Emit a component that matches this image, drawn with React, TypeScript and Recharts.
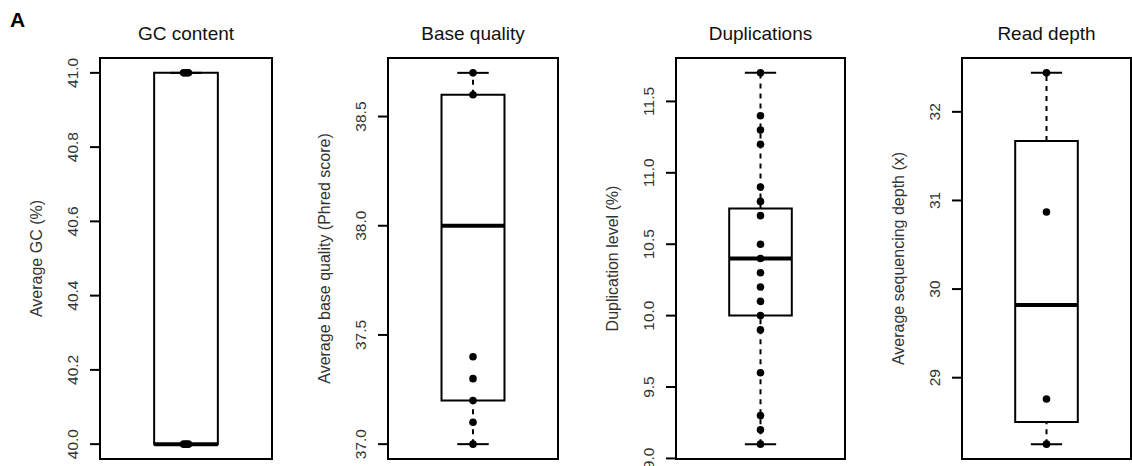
import React from "react"
import {
  ComposedChart,
  Scatter,
  XAxis,
  YAxis,
  ReferenceArea,
  ReferenceLine,
} from "recharts"

// five-number summaries: [min, q1, median, q3, max]
const gcStats = [40.0, 40.0, 40.0, 41.0, 41.0]
const qualityStats = [37.0, 37.2, 38.0, 38.6, 38.7]
const dupStats = [9.1, 10.0, 10.4, 10.75, 11.7]
const depthStats = [28.25, 28.5, 29.82, 31.67, 32.44]

// individual samples
const gcPoints = [41.0, 41.0, 41.0, 40.0, 40.0, 40.0]
const gcJitter = [0.985, 1.0, 1.015, 0.985, 1.0, 1.015]
const qualityPoints = [38.7, 38.6, 37.4, 37.3, 37.2, 37.1, 37.0]
const dupPoints = [
  11.7, 11.4, 11.3, 11.2, 10.9, 10.8, 10.7, 10.5, 10.4, 10.3, 10.2, 10.1, 10.0,
  9.9, 9.6, 9.3, 9.2, 9.1,
]
const depthPoints = [32.44, 30.87, 28.76, 28.25]

// tick labels
const gcTicks = [40.0, 40.2, 40.4, 40.6, 40.8, 41.0]
const qualityTicks = [37.0, 37.5, 38.0, 38.5]
const dupTicks = [9.0, 9.5, 10.0, 10.5, 11.0, 11.5]
const depthTicks = [29, 30, 31, 32]

const titles = ["GC content", "Base quality", "Duplications", "Read depth"]
const yLabels = [
  "Average GC (%)",
  "Average base quality (Phred score)",
  "Duplication level (%)",
  "Average sequencing depth (x)",
]

const FONT = '"Liberation Sans", Arial, sans-serif'
const AXIS_W = 128
const H = 466

const panels = [
  { stats: gcStats, points: gcPoints, jitter: gcJitter, ticks: gcTicks, digits: 1, left: 100, width: 172 },
  { stats: qualityStats, points: qualityPoints, ticks: qualityTicks, digits: 1, left: 388, width: 170 },
  { stats: dupStats, points: dupPoints, ticks: dupTicks, digits: 1, left: 676, width: 169 },
  { stats: depthStats, points: depthPoints, ticks: depthTicks, digits: 0, left: 962, width: 169 },
]

const xDomain: [number, number] = [0.46, 1.54]

const rotTick = (digits: number) => (props: any) => {
  const { x, y, payload } = props
  return (
    <text
      x={x}
      y={y}
      transform={`rotate(-90 ${x} ${y})`}
      textAnchor="middle"
      dominantBaseline="central"
      fontSize={15.5}
      fill="#333"
      fontFamily={FONT}
    >
      {Number(payload.value).toFixed(digits)}
    </text>
  )
}

const Dot = (props: any) => <circle cx={props.cx} cy={props.cy} r={3.8} fill="#000" />

function BoxPanel({ idx }: { idx: number }) {
  const p = panels[idx]
  const [lo, q1, med, q3, hi] = p.stats
  const pad = (hi - lo) * 0.04
  const yDomain: [number, number] = [lo - pad, hi + pad]
  const data = p.points.map((v, i) => ({ x: p.jitter ? p.jitter[i] : 1, y: v }))
  const chartW = AXIS_W + p.width + 4

  return (
    <div style={{ position: "absolute", left: p.left - AXIS_W, top: 0 }}>
      <ComposedChart
        width={chartW}
        height={H}
        margin={{ top: 58, right: 4, bottom: 7, left: 0 }}
      >
        <XAxis type="number" dataKey="x" domain={xDomain} hide />
        <YAxis
          type="number"
          dataKey="y"
          domain={yDomain}
          ticks={p.ticks}
          interval={0}
          allowDataOverflow
          width={AXIS_W}
          tickSize={10}
          tickMargin={17}
          tick={rotTick(p.digits)}
          tickLine={{ stroke: "#000", strokeWidth: 2 }}
          axisLine={{ stroke: "#000", strokeWidth: 2 }}
          label={{
            value: yLabels[idx],
            angle: -90,
            position: "center",
            fontSize: 16,
            fill: "#333",
            fontFamily: FONT,
          }}
        />
        <ReferenceArea
          x1={xDomain[0]}
          x2={xDomain[1]}
          y1={yDomain[0]}
          y2={yDomain[1]}
          fill="none"
          stroke="#000"
          strokeWidth={2}
          fillOpacity={0}
        />
        <ReferenceLine
          segment={[{ x: 1, y: q3 }, { x: 1, y: hi }]}
          stroke="#000"
          strokeWidth={2}
          strokeDasharray="5 5"
        />
        <ReferenceLine
          segment={[{ x: 1, y: lo }, { x: 1, y: q1 }]}
          stroke="#000"
          strokeWidth={2}
          strokeDasharray="5 5"
        />
        <ReferenceLine segment={[{ x: 0.9, y: hi }, { x: 1.1, y: hi }]} stroke="#000" strokeWidth={2} />
        <ReferenceLine segment={[{ x: 0.9, y: lo }, { x: 1.1, y: lo }]} stroke="#000" strokeWidth={2} />
        <ReferenceArea
          x1={0.8}
          x2={1.2}
          y1={q1}
          y2={q3}
          fill="#fff"
          fillOpacity={1}
          stroke="#000"
          strokeWidth={2}
        />
        <ReferenceLine segment={[{ x: 0.8, y: med }, { x: 1.2, y: med }]} stroke="#000" strokeWidth={4} />
        <Scatter data={data} dataKey="y" shape={Dot} isAnimationActive={false} />
      </ComposedChart>
    </div>
  )
}

export default function App() {
  return (
    <div
      style={{
        position: "absolute",
        left: 0,
        top: 0,
        width: 1132,
        height: H,
        background: "#fff",
        overflow: "hidden",
        fontFamily: FONT,
      }}
    >
      {panels.map((p, i) => (
        <BoxPanel key={i} idx={i} />
      ))}
      {panels.map((p, i) => (
        <div
          key={"t" + i}
          style={{
            position: "absolute",
            left: p.left,
            width: p.width,
            top: 24,
            textAlign: "center",
            fontSize: 19,
            lineHeight: "19px",
            color: "#111",
          }}
        >
          {titles[i]}
        </div>
      ))}
      <div
        style={{
          position: "absolute",
          left: 10,
          top: 9,
          fontSize: 21,
          lineHeight: "21px",
          fontWeight: "bold",
          color: "#000",
        }}
      >
        A
      </div>
    </div>
  )
}
